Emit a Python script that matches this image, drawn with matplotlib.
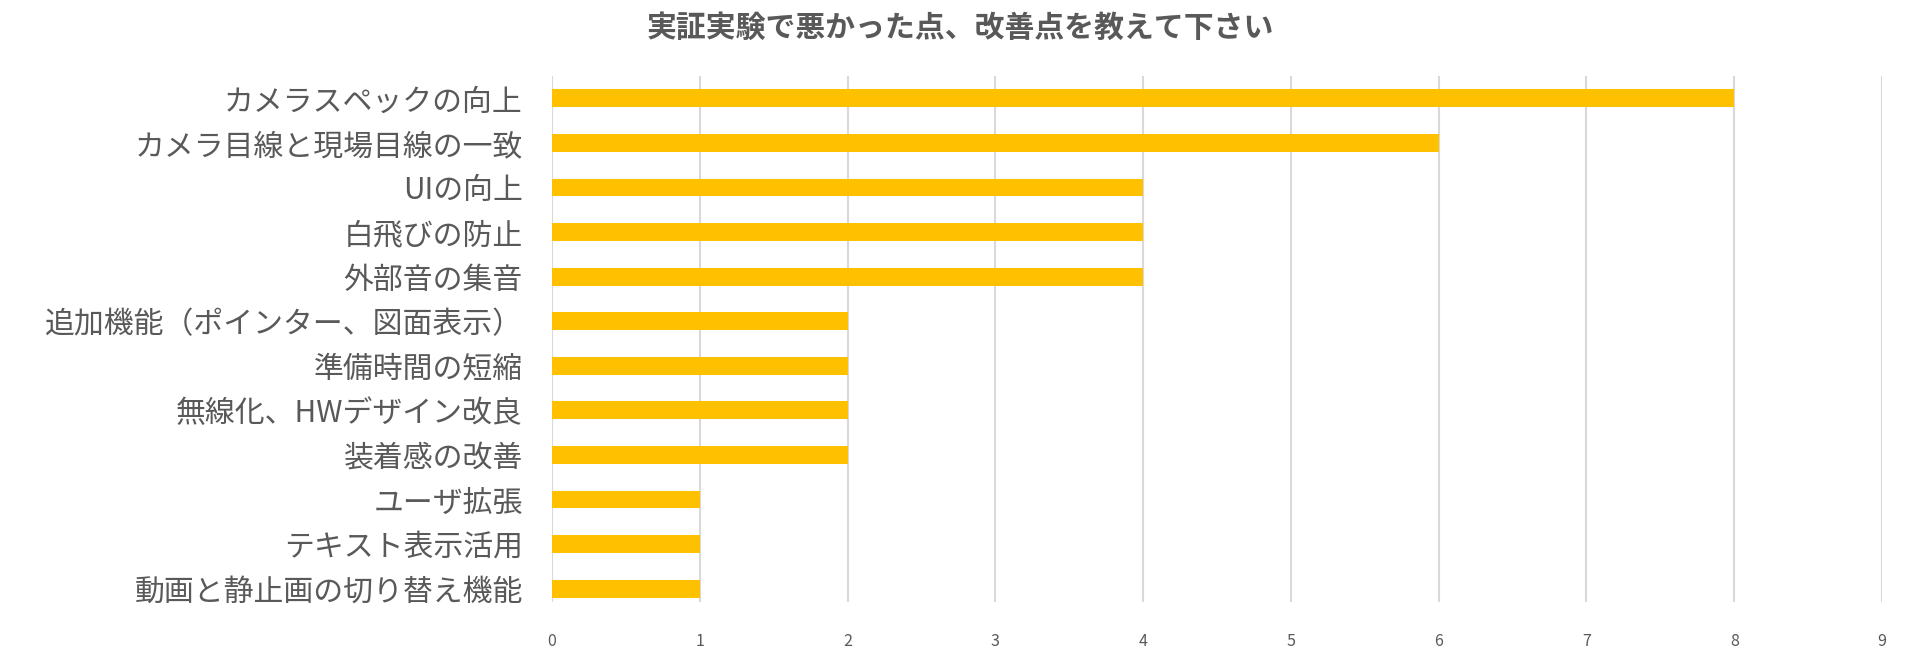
import matplotlib
matplotlib.use("Agg")
import matplotlib.pyplot as plt

plt.rcParams['font.family'] = ['Noto Sans CJK JP', 'DejaVu Sans']

categories = [
    "カメラスペックの向上",
    "カメラ目線と現場目線の一致",
    "UIの向上",
    "白飛びの防止",
    "外部音の集音",
    "追加機能（ポインター、図面表示）",
    "準備時間の短縮",
    "無線化、HWデザイン改良",
    "装着感の改善",
    "ユーザ拡張",
    "テキスト表示活用",
    "動画と静止画の切り替え機能",
]
counts = [8, 6, 4, 4, 4, 2, 2, 2, 2, 1, 1, 1]
xticks = list(range(10))

text_color = "#595959"

fig = plt.figure(figsize=(19.2, 6.52), dpi=100)
ax = fig.add_axes([0.2875, 0.0767, 0.6927, 0.8067])

ypos = list(range(len(categories)))
ax.barh(ypos, counts, height=0.4, color="#FFC000", zorder=3)

ax.set_xlim(0, 9)
ax.set_ylim(11.3, -0.5)
ax.set_xticks(xticks)
ax.set_yticks(ypos)
ax.set_yticklabels(categories, fontsize=21.5, color=text_color)
ax.tick_params(axis='y', length=0, pad=21)
ax.tick_params(axis='x', length=0, pad=22, labelsize=11.5, labelcolor=text_color)
ax.grid(axis='x', color="#D9D9D9", linewidth=1.5, zorder=0)
for s in ax.spines.values():
    s.set_visible(False)

fig.text(0.5, 1 - 28 / 652, "実証実験で悪かった点、改善点を教えて下さい",
         ha='center', va='center', fontsize=21.5, fontweight='bold', color=text_color)

fig.savefig("out.png", dpi=100)
